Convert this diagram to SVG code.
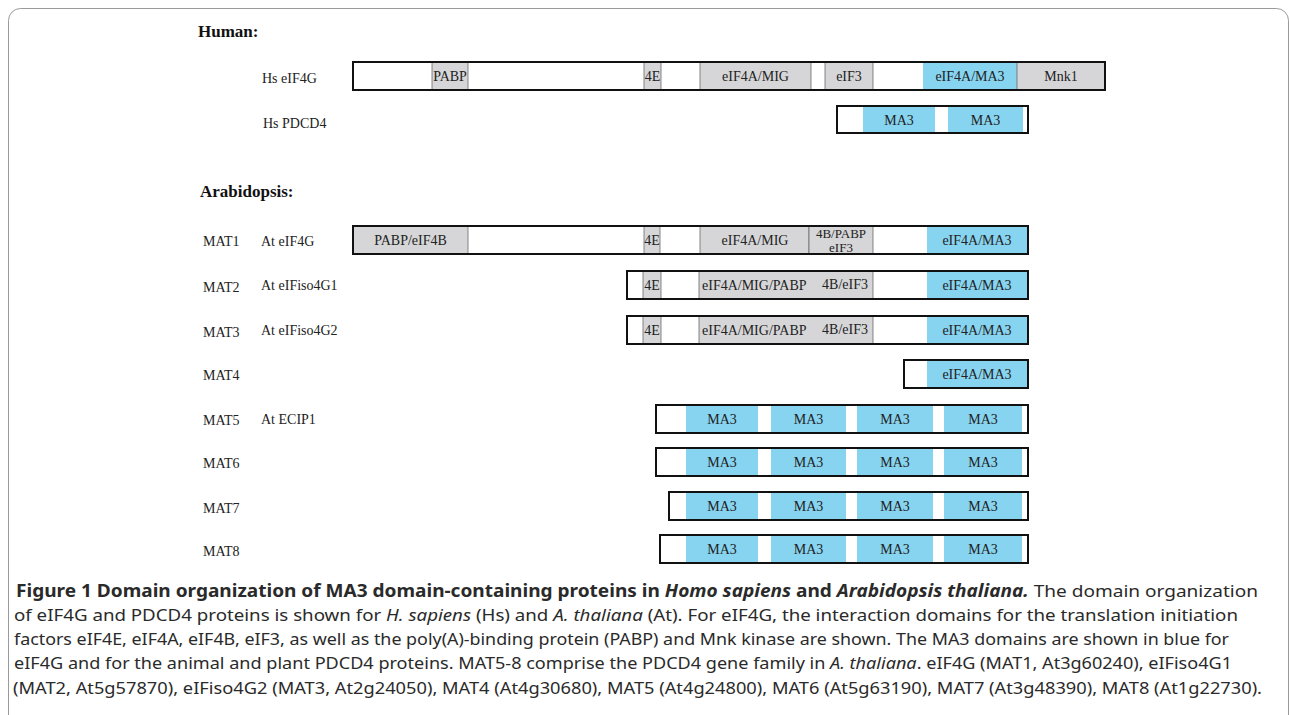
<svg xmlns="http://www.w3.org/2000/svg" width="1290" height="715" viewBox="0 0 1290 715">
<style>
.bar{fill:none;stroke:#111;stroke-width:2}
.bg{fill:#fff}
.g{fill:#d6d6d8;stroke:#6a6a6a;stroke-width:0.8}
.b{fill:#87d4f1}
.t{font-family:"Liberation Serif",serif;font-size:14px;fill:#222;text-anchor:middle}
.ts{font-family:"Liberation Serif",serif;font-size:13px;fill:#222;text-anchor:middle}
.lbl{font-family:"Liberation Serif",serif;font-size:14px;fill:#222}
.hd{font-family:"Liberation Serif",serif;font-size:17px;font-weight:bold;fill:#111}
.cap{font-family:"Noto Sans","Open Sans",sans-serif;font-size:17px;fill:#2a2a2a}
.bf{font-weight:bold}
.it{font-style:italic}
</style>
<rect x="8.5" y="8.5" width="1280" height="720" rx="12" fill="none" stroke="#9a9a9a" stroke-width="1"/>

<text class="hd" x="198" y="37">Human:</text>
<text class="hd" x="200" y="197">Arabidopsis:</text>

<g id="hs-eif4g">
<text class="lbl" x="262" y="83">Hs eIF4G</text>
<rect class="bg" x="353" y="62" width="752" height="28"/>
<rect class="g" x="432" y="62" width="36" height="28"/>
<rect class="g" x="644" y="62" width="17" height="28"/>
<rect class="g" x="700" y="62" width="111" height="28"/>
<rect class="g" x="825" y="62" width="48" height="28"/>
<rect class="b" x="923" y="62" width="94" height="28"/>
<rect class="g" x="1017" y="62" width="88" height="28"/>
<rect class="bar" x="353" y="62" width="752" height="28"/>
<text class="t" x="450" y="81">PABP</text>
<text class="t" x="652.5" y="81">4E</text>
<text class="t" x="755.5" y="81">eIF4A/MIG</text>
<text class="t" x="849" y="81">eIF3</text>
<text class="t" x="970" y="81">eIF4A/MA3</text>
<text class="t" x="1061" y="81">Mnk1</text>
</g>

<g id="hs-pdcd4">
<text class="lbl" x="263" y="128">Hs PDCD4</text>
<rect class="bg" x="837" y="106" width="191" height="27"/>
<rect class="b" x="863" y="106" width="72" height="27"/>
<rect class="b" x="948" y="106" width="75" height="27"/>
<rect class="bar" x="837" y="106" width="191" height="27"/>
<text class="t" x="899" y="125">MA3</text>
<text class="t" x="985.5" y="125">MA3</text>
</g>

<g id="mat1">
<text class="lbl" x="203" y="246">MAT1</text>
<text class="lbl" x="261" y="246">At eIF4G</text>
<rect class="bg" x="353" y="226" width="675" height="28"/>
<rect class="g" x="353" y="226" width="115" height="28"/>
<rect class="g" x="644" y="226" width="16" height="28"/>
<rect class="g" x="700" y="226" width="109" height="28"/>
<rect class="g" x="809" y="226" width="64" height="28"/>
<rect class="b" x="927" y="226" width="100" height="28"/>
<text class="t" x="410.5" y="245">PABP/eIF4B</text>
<text class="t" x="652" y="245">4E</text>
<text class="t" x="755" y="245">eIF4A/MIG</text>
<text class="ts" x="841" y="238">4B/PABP</text>
<text class="ts" x="841" y="252">eIF3</text>
<text class="t" x="977" y="245">eIF4A/MA3</text>
<rect class="bar" x="353" y="226" width="675" height="28"/>
</g>

<g id="mat2">
<text class="lbl" x="203" y="292">MAT2</text>
<text class="lbl" x="261" y="290">At eIFiso4G1</text>
<rect class="bg" x="627" y="271" width="401" height="28"/>
<rect class="g" x="643" y="271" width="18" height="28"/>
<rect class="g" x="699" y="271" width="174" height="28"/>
<rect class="b" x="927" y="271" width="100" height="28"/>
<rect class="bar" x="627" y="271" width="401" height="28"/>
<text class="t" x="652" y="290">4E</text>
<text class="t" x="702" y="290" style="text-anchor:start">eIF4A/MIG/PABP</text>
<text class="t" x="868" y="289" style="text-anchor:end">4B/eIF3</text>
<text class="t" x="977" y="290">eIF4A/MA3</text>
</g>

<g id="mat3">
<text class="lbl" x="203" y="337">MAT3</text>
<text class="lbl" x="261" y="335">At eIFiso4G2</text>
<rect class="bg" x="627" y="316" width="401" height="28"/>
<rect class="g" x="643" y="316" width="18" height="28"/>
<rect class="g" x="699" y="316" width="174" height="28"/>
<rect class="b" x="927" y="316" width="100" height="28"/>
<rect class="bar" x="627" y="316" width="401" height="28"/>
<text class="t" x="652" y="335">4E</text>
<text class="t" x="702" y="335" style="text-anchor:start">eIF4A/MIG/PABP</text>
<text class="t" x="868" y="334" style="text-anchor:end">4B/eIF3</text>
<text class="t" x="977" y="335">eIF4A/MA3</text>
</g>

<g id="mat4">
<text class="lbl" x="203" y="380">MAT4</text>
<rect class="bg" x="904" y="360" width="124" height="28"/>
<rect class="b" x="927" y="360" width="100" height="28"/>
<rect class="bar" x="904" y="360" width="124" height="28"/>
<text class="t" x="977" y="379">eIF4A/MA3</text>
</g>

<g id="mat5">
<text class="lbl" x="203" y="425">MAT5</text>
<text class="lbl" x="261" y="424">At ECIP1</text>
<rect class="bg" x="656" y="405" width="372" height="28"/>
<rect class="b" x="686" y="405" width="72" height="28"/>
<rect class="b" x="771" y="405" width="75" height="28"/>
<rect class="b" x="857" y="405" width="76" height="28"/>
<rect class="b" x="944" y="405" width="78" height="28"/>
<rect class="bar" x="656" y="405" width="372" height="28"/>
<text class="t" x="722" y="424">MA3</text>
<text class="t" x="808.5" y="424">MA3</text>
<text class="t" x="895" y="424">MA3</text>
<text class="t" x="983" y="424">MA3</text>
</g>

<g id="mat6">
<text class="lbl" x="203" y="468">MAT6</text>
<rect class="bg" x="656" y="448" width="372" height="28"/>
<rect class="b" x="686" y="448" width="72" height="28"/>
<rect class="b" x="771" y="448" width="75" height="28"/>
<rect class="b" x="857" y="448" width="76" height="28"/>
<rect class="b" x="944" y="448" width="78" height="28"/>
<rect class="bar" x="656" y="448" width="372" height="28"/>
<text class="t" x="722" y="467">MA3</text>
<text class="t" x="808.5" y="467">MA3</text>
<text class="t" x="895" y="467">MA3</text>
<text class="t" x="983" y="467">MA3</text>
</g>

<g id="mat7">
<text class="lbl" x="203" y="513">MAT7</text>
<rect class="bg" x="669" y="492" width="359" height="28"/>
<rect class="b" x="686" y="492" width="72" height="28"/>
<rect class="b" x="771" y="492" width="75" height="28"/>
<rect class="b" x="857" y="492" width="76" height="28"/>
<rect class="b" x="944" y="492" width="78" height="28"/>
<rect class="bar" x="669" y="492" width="359" height="28"/>
<text class="t" x="722" y="511">MA3</text>
<text class="t" x="808.5" y="511">MA3</text>
<text class="t" x="895" y="511">MA3</text>
<text class="t" x="983" y="511">MA3</text>
</g>

<g id="mat8">
<text class="lbl" x="203" y="556">MAT8</text>
<rect class="bg" x="660" y="535" width="368" height="28"/>
<rect class="b" x="686" y="535" width="72" height="28"/>
<rect class="b" x="771" y="535" width="75" height="28"/>
<rect class="b" x="857" y="535" width="76" height="28"/>
<rect class="b" x="944" y="535" width="78" height="28"/>
<rect class="bar" x="660" y="535" width="368" height="28"/>
<text class="t" x="722" y="554">MA3</text>
<text class="t" x="808.5" y="554">MA3</text>
<text class="t" x="895" y="554">MA3</text>
<text class="t" x="983" y="554">MA3</text>
</g>

<g id="caption">
<text class="cap" x="16" y="597" textLength="1242" lengthAdjust="spacingAndGlyphs"><tspan class="bf">Figure 1 Domain organization of MA3 domain-containing proteins in </tspan><tspan class="bf it">Homo sapiens</tspan><tspan class="bf"> and </tspan><tspan class="bf it">Arabidopsis thaliana.</tspan> The domain organization</text>
<text class="cap" x="14" y="621" textLength="1224" lengthAdjust="spacingAndGlyphs">of eIF4G and PDCD4 proteins is shown for <tspan class="it">H. sapiens</tspan> (Hs) and <tspan class="it">A. thaliana</tspan> (At). For eIF4G, the interaction domains for the translation initiation</text>
<text class="cap" x="14" y="645" textLength="1215" lengthAdjust="spacingAndGlyphs">factors eIF4E, eIF4A, eIF4B, eIF3, as well as the poly(A)-binding protein (PABP) and Mnk kinase are shown. The MA3 domains are shown in blue for</text>
<text class="cap" x="14" y="669" textLength="1218" lengthAdjust="spacingAndGlyphs">eIF4G and for the animal and plant PDCD4 proteins. MAT5-8 comprise the PDCD4 gene family in <tspan class="it">A. thaliana</tspan>. eIF4G (MAT1, At3g60240), eIFiso4G1</text>
<text class="cap" x="13" y="694" textLength="1249" lengthAdjust="spacingAndGlyphs">(MAT2, At5g57870), eIFiso4G2 (MAT3, At2g24050), MAT4 (At4g30680), MAT5 (At4g24800), MAT6 (At5g63190), MAT7 (At3g48390), MAT8 (At1g22730).</text>
</g>
</svg>
